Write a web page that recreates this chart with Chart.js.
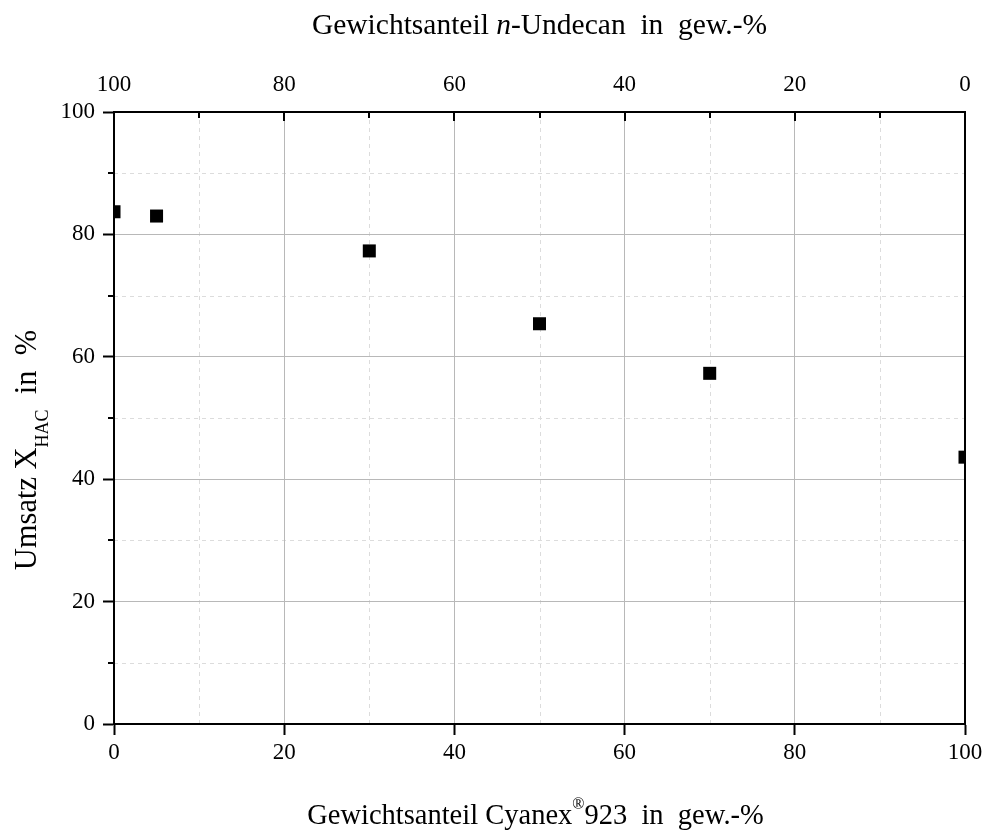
<!DOCTYPE html>
<html>
<head>
<meta charset="utf-8">
<script src="https://cdn.jsdelivr.net/npm/chart.js@4.4.1/dist/chart.umd.min.js"></script>
<style>
  html, body { margin: 0; padding: 0; background: #fff; }
  canvas { display: block; }
</style>
</head>
<body>
<canvas id="myChart" width="983" height="831"></canvas>
<script>
// data
const cyanexShare = [0, 5, 30, 50, 70, 100];          // gew.-% Cyanex 923
const conversion = [83.7, 83.0, 77.3, 65.4, 57.3, 43.6]; // X_HAC in %
const xTicks = [0, 20, 40, 60, 80, 100];
const xMinorTicks = [10, 30, 50, 70, 90];
const undecanTicks = [100, 80, 60, 40, 20, 0];
const yTicks = [0, 20, 40, 60, 80, 100];
const yMinorTicks = [10, 30, 50, 70, 90];

const serif = '"Liberation Serif", "DejaVu Serif", serif';
const tickFont = { family: serif, size: 23 };

// draws a line of text made of pieces (italic, sub/superscript)
function drawRich(ctx, parts, cx, baseline, size) {
  const fontOf = p => (p.italic ? 'italic ' : '') + (p.size || size) + 'px ' + serif;
  let total = 0;
  parts.forEach(p => { ctx.font = fontOf(p); total += ctx.measureText(p.t).width; });
  let x = cx - total / 2;
  ctx.textAlign = 'left';
  ctx.textBaseline = 'alphabetic';
  parts.forEach(p => {
    ctx.font = fontOf(p);
    ctx.fillText(p.t, x, baseline + (p.dy || 0));
    x += ctx.measureText(p.t).width;
  });
}

const extras = {
  id: 'extras',
  beforeDraw(chart) {
    const { ctx, chartArea: a, scales: { x, y } } = chart;
    ctx.save();
    ctx.fillStyle = '#fff';
    ctx.fillRect(0, 0, chart.width, chart.height);
    // minor dashed grid
    ctx.strokeStyle = '#dcdcdc';
    ctx.lineWidth = 1;
    ctx.setLineDash([4, 4]);
    ctx.beginPath();
    xMinorTicks.forEach(v => {
      const px = Math.round(x.getPixelForValue(v)) + 0.5;
      ctx.moveTo(px, a.top); ctx.lineTo(px, a.bottom);
    });
    yMinorTicks.forEach(v => {
      const py = Math.round(y.getPixelForValue(v)) + 0.5;
      ctx.moveTo(a.left, py); ctx.lineTo(a.right, py);
    });
    ctx.stroke();
    ctx.restore();
  },
  afterDraw(chart) {
    const { ctx, chartArea: a, scales: { y, x2 } } = chart;
    ctx.save();
    ctx.strokeStyle = '#000';
    ctx.lineWidth = 2;
    ctx.beginPath();
    // top axis ticks point into the plot
    undecanTicks.forEach(v => {
      const px = Math.round(x2.getPixelForValue(v));
      ctx.moveTo(px, a.top); ctx.lineTo(px, a.top + 9);
    });
    xMinorTicks.forEach(v => {
      const px = Math.round(x2.getPixelForValue(v));
      ctx.moveTo(px, a.top); ctx.lineTo(px, a.top + 6);
    });
    // left minor ticks
    yMinorTicks.forEach(v => {
      const py = Math.round(y.getPixelForValue(v));
      ctx.moveTo(a.left - 6, py); ctx.lineTo(a.left, py);
    });
    ctx.stroke();

    // axis titles
    ctx.fillStyle = '#000';
    const cx = (a.left + a.right) / 2;
    drawRich(ctx, [
      { t: 'Gewichtsanteil ' },
      { t: 'n', italic: true },
      { t: '-Undecan  in  gew.-%' }
    ], cx, 34, 29.5);
    drawRich(ctx, [
      { t: 'Gewichtsanteil Cyanex' },
      { t: '\u00AE', size: 16, dy: -15 },
      { t: '923  in  gew.-%' }
    ], cx - 4, 824, 28.5);

    ctx.translate(36, 450);
    ctx.rotate(-Math.PI / 2);
    drawRich(ctx, [
      { t: 'Umsatz X' },
      { t: 'HAC', size: 18, dy: 12 },
      { t: '  in  %' }
    ], 0, 0, 30.5);
    ctx.restore();
  }
};

const ctx = document.getElementById('myChart').getContext('2d');
new Chart(ctx, {
  type: 'scatter',
  data: {
    datasets: [{
      label: 'Umsatz',
      data: cyanexShare.map((v, i) => ({ x: v, y: conversion[i] })),
      pointStyle: 'rect',
      pointRadius: 9.2,
      pointHoverRadius: 9.2,
      backgroundColor: '#000',
      borderColor: '#000',
      borderWidth: 0,
      clip: 0
    }]
  },
  options: {
    responsive: false,
    animation: false,
    devicePixelRatio: 1,
    layout: { padding: 0 },
    plugins: {
      legend: { display: false },
      tooltip: { enabled: false }
    },
    scales: {
      x: {
        type: 'linear',
        position: 'bottom',
        min: 0,
        max: 100,
        afterBuildTicks: s => { s.ticks = xTicks.map(v => ({ value: v })); },
        afterFit: s => { s.height = 107; s.paddingLeft = 0; s.paddingRight = 0; },
        ticks: { font: tickFont, color: '#000', padding: 4, maxRotation: 0 },
        grid: { color: '#b8b8b8', lineWidth: 1, tickLength: 11, tickColor: '#000', tickWidth: 2 },
        border: { color: '#000', width: 2 }
      },
      x2: {
        type: 'linear',
        position: 'top',
        min: 0,
        max: 100,
        reverse: true,
        afterBuildTicks: s => { s.ticks = undecanTicks.map(v => ({ value: v })); },
        afterFit: s => { s.height = 112; s.paddingLeft = 0; s.paddingRight = 0; },
        ticks: { font: tickFont, color: '#000', padding: 13, maxRotation: 0 },
        grid: { drawOnChartArea: false, drawTicks: false },
        border: { color: '#000', width: 2 }
      },
      y: {
        type: 'linear',
        position: 'left',
        min: 0,
        max: 100,
        afterBuildTicks: s => { s.ticks = yTicks.map(v => ({ value: v })); },
        afterFit: s => { s.width = 114; },
        ticks: { font: tickFont, color: '#000', padding: 8 },
        grid: { color: '#b8b8b8', lineWidth: 1, tickLength: 11, tickColor: '#000', tickWidth: 2 },
        border: { color: '#000', width: 2 }
      },
      y2: {
        type: 'linear',
        position: 'right',
        min: 0,
        max: 100,
        afterFit: s => { s.width = 18; },
        ticks: { display: false },
        grid: { drawOnChartArea: false, drawTicks: false },
        border: { color: '#000', width: 2 }
      }
    }
  },
  plugins: [extras]
});
</script>
</body>
</html>
